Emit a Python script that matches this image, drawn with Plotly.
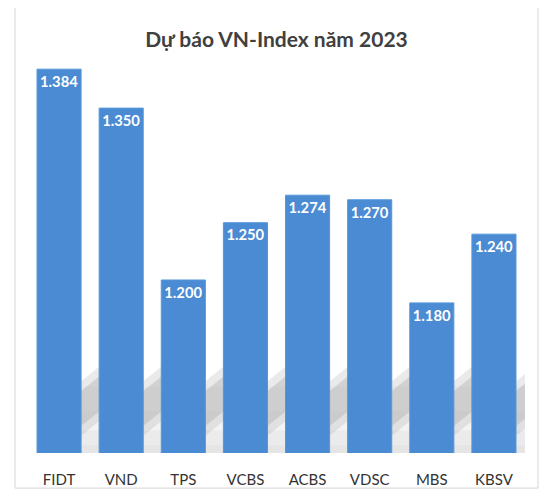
import plotly.graph_objects as go

categories = ["FIDT", "VND", "TPS", "VCBS", "ACBS", "VDSC", "MBS", "KBSV"]
forecast = [1384, 1350, 1200, 1250, 1274, 1270, 1180, 1240]
title_text = "Dự báo VN-Index năm 2023"

# the page body adds an 8px offset; size the figure to fit the 552x500 window
OFF = 8
W, H = 552 - OFF, 500 - OFF
PX0, PX1, PY0, PY1 = 28, 525, 60, 463   # plot area in window pixels
ml, mr = PX0 - OFF, W - (PX1 - OFF)
mt, mb = PY0 - OFF, H - (PY1 - OFF)
y_range = [1049, 1392]
BARGAP = 0.29

def to_paper(x, y):
    return (x - PX0) / (PX1 - PX0), (PY1 - y) / (PY1 - PY0)

def py_to_paper(y):
    return (PY1 - y) / (PY1 - PY0)

fig = go.Figure()
fig.add_trace(go.Bar(
    x=categories, y=forecast,
    marker=dict(color="#4a8bd3", line=dict(width=1, color="#5598da")),
    texttemplate="%{y:,.0f}",
    textposition="inside", insidetextanchor="end",
    textfont=dict(family="Lato, Open Sans, sans-serif", size=15, color="white", weight="bold"),
    textangle=0,
    cliponaxis=False,
    hoverinfo="skip",
))

shapes = []
# soft grey wash in the lower part of the background (decorative)
half = (1 - BARGAP) / 2
n = len(categories)
wash = [(420, 463, 0.10), (440, 463, 0.08), (455, 463, 0.06), (395, 420, 0.05)]
for ytop, ybot, a in wash:
    shapes.append(dict(type="rect", xref="x", yref="paper",
                       x0=half, x1=n - 1 + 0.71,
                       y0=py_to_paper(ybot), y1=py_to_paper(ytop),
                       fillcolor=f"rgba(140,140,140,{a})", line=dict(width=0), layer="below"))
# diagonal reflection streaks in each gap (decorative)
def yv(ypx):
    return y_range[0] + (PY1 - ypx) * (y_range[1] - y_range[0]) / (PY1 - PY0)
for i in range(n):
    gx0, gx1 = i + half - 0.05, i + 1 - half + 0.05
    for (yl0, yl1, yr0, yr1, col) in [
        (392, 448, 372, 428, "rgba(160,160,160,0.22)"),
        (402, 438, 382, 418, "rgba(140,140,140,0.25)"),
    ]:
        path = (f"M {gx0},{yv(yl1)} L {gx1},{yv(yr1)} L {gx1},{yv(yr0)} "
                f"L {gx0},{yv(yl0)} Z")
        shapes.append(dict(type="path", xref="x", yref="y", path=path,
                           fillcolor=col, line=dict(width=0), layer="below"))
# chart frame
fx0, fy0 = to_paper(15, 499)
fx1, fy1 = to_paper(538, 0)
shapes.append(dict(type="rect", xref="paper", yref="paper",
                   x0=fx0, x1=fx1, y0=fy0, y1=fy1,
                   line=dict(color="#d6d6d6", width=1), fillcolor="rgba(0,0,0,0)", layer="below"))

fig.update_layout(
    width=W, height=H,
    margin=dict(l=ml, r=mr, t=mt, b=mb),
    paper_bgcolor="white", plot_bgcolor="rgba(0,0,0,0)",
    separators=",.",
    bargap=BARGAP,
    showlegend=False,
    shapes=shapes,
    title=dict(text=title_text, x=0.5, xref="paper", y=1 - (40 - OFF) / H, yref="container",
               xanchor="center", yanchor="middle",
               font=dict(family="Lato, Open Sans, sans-serif", size=21, color="#404040", weight="bold")),
    xaxis=dict(showgrid=False, zeroline=False, showline=False, ticks="",
               range=[-0.5, n - 0.5],
               tickfont=dict(family="Lato, Open Sans, sans-serif", size=15, color="#333333"),
               ticklabelstandoff=16),
    yaxis=dict(range=y_range, visible=False, showgrid=False),
)

fig.write_html("out.html")
